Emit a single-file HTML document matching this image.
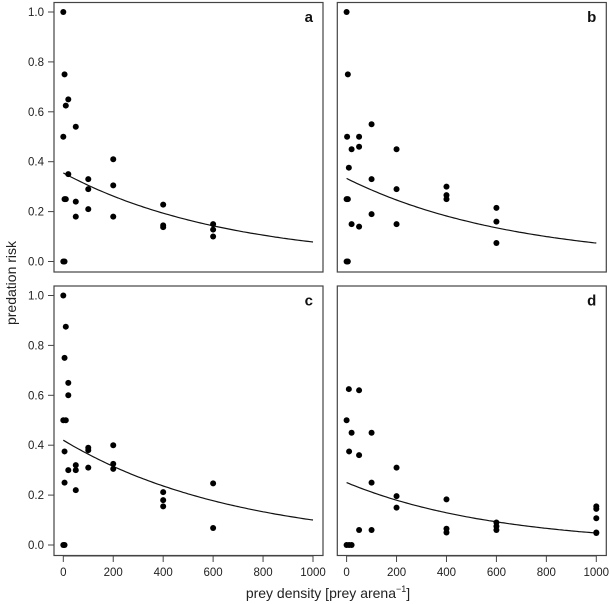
<!DOCTYPE html>
<html><head><meta charset="utf-8">
<style>
body{margin:0;background:#fff;}
svg{display:block;font-family:"Liberation Sans",Arial,sans-serif;}
</style></head>
<body>
<svg id="chart" width="610" height="604" xmlns="http://www.w3.org/2000/svg"></svg>
<script>
const panelLabels = ["a","b","c","d"];
const xTicks = [0,200,400,600,800,1000];
const yTicks = [0,0.2,0.4,0.6,0.8,1.0];
const yTickLabels = ["0.0","0.2","0.4","0.6","0.8","1.0"];
const aX = [0,5,10,20,0,50,20,5,10,0,5,50,50,100,100,100,200,200,200,400,400,400,600,600,600];
const aY = [1.0,0.75,0.625,0.65,0.5,0.54,0.35,0.25,0.25,0,0,0.24,0.18,0.33,0.29,0.21,0.41,0.305,0.18,0.228,0.145,0.138,0.15,0.128,0.1];
const bX = [0,5,100,2,50,50,20,200,9,100,200,400,400,400,0,5,600,100,600,20,200,50,600,0,5];
const bY = [1.0,0.75,0.55,0.5,0.5,0.46,0.45,0.45,0.376,0.33,0.29,0.30,0.266,0.25,0.25,0.25,0.215,0.19,0.16,0.15,0.15,0.14,0.074,0,0];
const cX = [0,10,5,20,20,0,10,5,20,5,0,5,50,50,50,100,100,100,200,200,200,400,400,400,600,600];
const cY = [1.0,0.875,0.75,0.65,0.6,0.5,0.5,0.375,0.3,0.25,0,0,0.32,0.3,0.22,0.39,0.38,0.31,0.4,0.325,0.305,0.212,0.18,0.155,0.247,0.068];
const dX = [9,50,0,20,100,10,50,200,100,200,400,200,1000,1000,1000,600,600,600,400,400,50,100,1000,1000,0,10,20];
const dY = [0.625,0.62,0.5,0.45,0.45,0.375,0.36,0.31,0.25,0.196,0.183,0.15,0.155,0.145,0.107,0.09,0.075,0.06,0.065,0.05,0.06,0.06,0.05,0.048,0,0,0];
const fitStart = [0.355,0.333,0.42,0.25];
const fitEnd = [0.078,0.074,0.10,0.048];

const NS="http://www.w3.org/2000/svg";
const svg=document.getElementById('chart');
function mk(tag,attrs,parent){const e=document.createElementNS(NS,tag);for(const k in attrs)e.setAttribute(k,attrs[k]);(parent||svg).appendChild(e);return e;}
const offX=[0,283.3,0,283.3], offY=[0,0,283.5,283.5];
const seriesX=[aX,bX,cX,dX], seriesY=[aY,bY,cY,dY];
for(let p=0;p<4;p++){
  const ox=offX[p], oy=offY[p];
  const sx=v=>63.3+ox+v*0.2497;
  const sy=v=>261.5+oy-v*249.5;
  const g=mk('g',{});
  
  
  const box=mk('rect',{x:54+ox,y:2.5+oy,width:269,height:269.5,fill:'none',stroke:'#444','stroke-width':1.2},g);
  
  
  const lab=mk('text',{x:313+ox,y:22+oy,'text-anchor':'end','font-size':15,'font-weight':'bold',fill:'#111'},g);
  lab.textContent=panelLabels[p];
  
  
  if(p%2===0){
    const ax=mk('g',{},g);
    
    
    mk('line',{x1:54,x2:54,y1:sy(0),y2:sy(1),stroke:'#444'},ax);
    yTicks.forEach((t,i)=>{
      mk('line',{x1:48,x2:54,y1:sy(t),y2:sy(t),stroke:'#444'},ax);
      const tx=mk('text',{x:44,y:sy(t)+4,'text-anchor':'end','font-size':11.5,fill:'#222'},ax);
      tx.textContent=yTickLabels[i];
      
      
    });
  }
  if(p>=2){
    const ax=mk('g',{},g);
    
    
    mk('line',{x1:sx(0),x2:sx(1000),y1:556,y2:556,stroke:'#444'},ax);
    xTicks.forEach(t=>{
      mk('line',{x1:sx(t),x2:sx(t),y1:556,y2:562,stroke:'#444'},ax);
      const tx=mk('text',{x:sx(t),y:576,'text-anchor':'middle','font-size':11.5,fill:'#222'},ax);
      tx.textContent=String(t);
      
      
    });
  }
  // fitted curve
  const k=Math.log(fitStart[p]/fitEnd[p])/1000;
  let d='';
  for(let x=0;x<=1000;x+=10){d+=(x?'L':'M')+sx(x).toFixed(1)+','+sy(fitStart[p]*Math.exp(-k*x)).toFixed(1);}
  const path=mk('path',{d:d,fill:'none',stroke:'#111','stroke-width':1.2},g);
  
  
  const X=seriesX[p], Y=seriesY[p];
  for(let i=0;i<X.length;i++){
    const c=mk('circle',{cx:sx(X[i]),cy:sy(Y[i]),r:3,fill:'#000'},g);
    
    
  }
}
const yl=mk('text',{x:16,y:283,'text-anchor':'middle','font-size':14,fill:'#222',transform:'rotate(-90 16 283)'});
yl.textContent='predation risk';


const xl=mk('text',{x:328,y:598,'text-anchor':'middle','font-size':14,fill:'#222'});


xl.innerHTML='prey density [prey arena<tspan dy="-6" font-size="9">−1</tspan><tspan dy="6">]</tspan>';
</script>
</body></html>
